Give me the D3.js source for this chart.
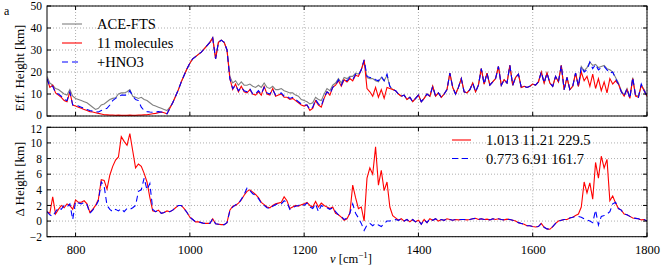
<!DOCTYPE html>
<html><head><meta charset="utf-8">
<script src="https://cdn.jsdelivr.net/npm/d3@7"></script>
<style>body{margin:0;background:#fff}svg{display:block}text{font-family:"Liberation Serif","DejaVu Serif",serif;fill:#000}</style>
</head><body><svg id="c" width="664" height="266"></svg>
<script>
// sampling grid (cm^-1)
const wavenumbers = d3.range(750, 1801, 5);
const xTicks = [800, 1000, 1200, 1400, 1600, 1800];
const topTicks = [0, 10, 20, 30, 40, 50];
const botTicks = [-2, 0, 2, 4, 6, 8, 10, 12];
const topLegend = ["ACE-FTS", "11 molecules", "+HNO3"];
const botLegend = ["1.013 11.21 229.5", "0.773 6.91 161.7"];

const aceTop = [
18,15,14,12.5,12,11,10,9.5,12,9,
8,7.5,7,6.5,6,5,4,3,3.5,5,
5.5,6.5,7.5,8,8.3,10,10.5,10.5,11,12,
9,8.5,8,8.5,7.5,7,6,5,4.5,4,
3.5,3,2.5,4,6,9,12,15.5,18.5,21.5,
24,26,27,28,29,30.5,32,33.5,35.5,26,
33.5,34.5,33.5,30,18,15,16,14,15.5,14,
14,14.5,13.5,13,14,13,15,13,12.5,13.5,
12,12,12.5,11.5,11,10.5,10.5,9.5,9,7.5,
7,6.5,5.5,6,8.5,7.5,7,10,12.5,11.5,
14,15,17,15,17.5,17,18,18,19.5,19,
21,25,17.5,17,17,16,15.5,17.5,16,18.5,
13.5,12,11.5,10,9,9.5,7.5,8.5,6.5,8,
9.5,6.5,8,10,9,13.5,9,10.5,8.5,10,
12,19.5,13,10,13,17,11,10.5,12,15,
11,14,21.5,14.5,19.5,14,15.5,17,22.5,14,
16.5,15,23,14,17.5,19,13,13.5,13,13.5,
14.5,14,15.5,20,15,19.5,15,13.5,18,15.5,
23,12,17.5,12,13.5,19.5,13.5,22.5,20.5,22,
24.5,23,23.5,22,22.5,23,21.5,21,20,17.5,
15,11.5,9.5,12.5,8.5,17.5,9.5,9,14,12,
9.5];

const redTop = [
17,13,14,10.5,9.5,8.5,7,6.5,11,5,
4.5,4,3.5,3,2.5,2,1.8,1.5,1.2,0.9,
0.6,0.5,0.4,0.4,0.3,0.4,0.3,0.3,0.3,0.4,
0.3,0.3,0.4,0.4,0.5,0.6,0.8,1,1.2,1.5,
1.8,1.5,1,3.5,6,9,12,15.5,18.5,21.5,
24,26,27,28,29,30.5,32,33.5,35.5,26,
33.5,34.5,33.5,30,17,12,14.5,11,13.5,11,
10.5,12,10,9.5,11,9.5,13.5,10,9.5,12.5,
9,9.5,10,8.5,8.5,7.5,8,7,6,5,
4.5,5,2.5,3.5,7,5,4,8,11,9.5,
13,14,16,13.5,16.5,15.5,17,16,18.5,18,
21,25.5,12.5,11,9,13,8.5,12,8,13,
12.5,12,11.5,10,9,9.5,7.5,8.5,6.5,8,
9.5,6.5,8,10,9,13.5,9,10.5,8.5,10,
12,19.5,13,10,13,17,11,10.5,12,15,
11,14,21.5,14.5,19.5,14,15.5,17,22.5,14,
16.5,15,23,14,17.5,19,13,13.5,13,13.5,
14.5,14,15.5,20,15,19.5,15,13.5,18,15.5,
23,12,17.5,12,13.5,19.5,13.5,20,16,18,
13.5,19,12.5,17,11.5,15.5,10.5,17,14.5,16,
14.5,11,9,12,8,17,9,8.5,14,11.5,
9];

const blueTop = [
17,13.5,13.5,10.5,10,9,7.5,7,11,5,
5,4.5,4,3.5,3,2.5,2.2,2,1.8,2.5,
3,3.5,5,7,8,8.8,9.5,9.5,9.5,11.5,
9,7.5,7,4,2.5,2,1.8,1.7,1.8,2,
1.8,1.5,1,3.5,6,9,12,15.5,18.5,21.5,
24,26,27,28,29,30.5,32,33.5,35.5,26,
33.5,34.5,33.5,30,17,12.5,14,11.5,13,11.5,
11,12.5,10,10,11.5,10,13,10.5,10,12,
9.5,10,10.5,9,9,8,8.5,7.5,6.5,5.5,
5,5,3,4,7.5,5.5,4.5,8.5,11,10,
13,14,16.5,14,17,16,17.5,16.5,19,18.5,
21,25.5,18,17.5,17.5,16.5,16,18,16,19,
13.5,12,11.5,10,9,9.5,7.5,8.5,6.5,8,
9.5,6.5,8,10,9,13.5,9,10.5,8.5,10,
12,19.5,13,10,13,17,11,10.5,12,15,
11,14,21.5,14.5,19.5,14,15.5,17,22.5,14,
16.5,15,23,14,17.5,19,13,13.5,13,13.5,
14.5,14,15.5,20,15,19.5,15,13.5,18,15.5,
23,12,17.5,12,13.5,19.5,13.5,22.5,20,21,
24.5,21.5,23.5,21,22,22.5,21,19.5,20,17,
14.5,11,9,12.5,8,17.5,9,8.5,14.5,11.5,
9];

const redDelta = [
1.2,1.0,3.1,0.9,1.5,2.0,1.7,2.2,2.0,1.5,
2.7,2.4,2.4,2.6,2.2,1.1,1.5,2.0,2.8,5.3,
5.2,4.1,5.9,7.0,7.8,8.2,10.8,10.2,9.7,11.2,
9.0,6.8,7.3,7.0,6.1,5.0,3.0,1.3,1.2,1.4,
1.0,1.1,1.3,1.2,1.4,1.7,2.0,2.0,1.6,1.1,
0.5,0.2,-0.1,-0.1,-0.2,-0.3,-0.3,-0.3,0.3,-0.35,
-0.4,-0.45,-0.45,-0.2,1.4,1.9,2.0,2.3,2.7,3.3,
3.8,4.0,3.7,3.4,3.0,2.4,2.1,1.8,1.7,2.0,
2.2,2.3,2.4,3.1,2.6,1.6,1.8,2.0,1.9,2.1,
2.2,2.4,2.0,1.8,2.5,1.8,2.3,2.0,1.8,1.6,
1.8,1.0,0.8,0.5,0.1,0.3,1.0,4.6,3.0,1.6,
1.8,0.0,5.5,6.8,6.0,9.5,4.6,6.5,3.9,5.0,
1.8,0.7,0.4,0.1,0.3,0.0,0.2,-0.1,0.2,-0.1,
0.1,-0.4,0.2,-0.2,0.3,0.1,0.3,0.0,0.2,0.1,
0.3,0.2,0.1,0.2,0.15,0.2,0.2,0.15,0.2,0.3,
0.35,0.2,0.3,0.2,0.25,0.15,0.3,0.2,0.3,0.2,
0.15,0.25,0.2,0.1,0.0,-0.2,-0.3,-0.4,-0.6,-0.6,
-0.7,-0.75,-0.7,-0.3,-0.8,-1.0,-1.05,-0.7,-0.3,0.0,
0.1,0.2,0.2,0.4,0.5,0.7,0.9,1.8,5.0,3.6,
4.9,2.8,7.5,5.5,8.3,6.8,7.9,2.6,3.2,2.3,
1.6,1.4,0.9,0.8,0.6,0.4,0.35,0.3,0.15,0.2,
0.0];

const blueDelta = [
1.2,0.8,0.6,1.2,1.7,1.5,2.0,1.8,2.2,0.2,
2.5,2.3,2.2,2.4,2.1,1.0,1.4,1.9,2.6,5.0,
4.5,2.0,1.5,1.2,1.5,1.3,1.6,1.2,1.6,1.5,
1.7,2.0,3.8,4.0,5.5,4.0,4.8,1.5,1.2,1.4,
1.0,1.1,1.3,1.2,1.4,1.7,2.0,2.0,1.6,1.1,
0.5,0.2,-0.1,-0.1,-0.2,-0.3,-0.3,-0.3,0.3,-0.35,
-0.4,-0.45,-0.45,-0.2,1.3,1.8,2.1,2.2,2.8,3.4,
4.2,3.9,3.5,3.3,2.9,2.3,2.0,1.7,1.6,1.9,
2.1,2.3,2.2,2.6,2.4,1.5,1.7,1.9,2.0,2.2,
2.0,2.3,1.8,1.6,2.2,1.2,2.0,1.8,1.7,1.5,
1.7,1.2,0.8,0.6,0.2,0.4,1.0,2.2,1.0,0.4,
-0.3,-1.2,-0.5,-0.3,-0.6,-0.3,-0.5,-0.7,-0.3,0.0,
0.0,0.1,0.2,0.1,0.3,0.0,0.2,-0.1,0.2,-0.1,
0.1,-0.4,0.2,-0.2,0.3,0.1,0.3,0.0,0.2,0.1,
0.3,0.2,0.1,0.2,0.15,0.2,0.2,0.15,0.2,0.3,
0.35,0.2,0.3,0.2,0.25,0.15,0.3,0.2,0.3,0.2,
0.15,0.25,0.2,0.1,0.0,-0.2,-0.3,-0.4,-0.6,-0.6,
-0.7,-0.75,-0.7,-0.3,-0.8,-1.0,-1.05,-0.7,-0.3,0.0,
0.1,0.2,0.2,0.4,0.5,0.6,0.6,0.5,0.3,0.15,
0.0,-0.2,1.4,-0.5,0.6,0.7,0.9,1.2,2.2,2.4,
1.6,1.4,0.9,0.8,0.6,0.4,0.35,0.3,0.15,0.2,
0.0];

const svg = d3.select("#c");
const L = 47, R = 647;
const x = d3.scaleLinear().domain([750, 1800]).range([L, R]);
const yTop = d3.scaleLinear().domain([0, 50]).range([116, 6]);
const yBot = d3.scaleLinear().domain([-2, 12]).range([236.7, 127.3]);
const FONT = '"Liberation Serif",serif';

function panel(y, ticks, id, showX, nudge) {
  const [y0, y1] = y.range();
  const g = svg.append("g");
  svg.append("clipPath").attr("id", id).append("rect")
    .attr("x", L).attr("y", y1).attr("width", R - L).attr("height", y0 - y1);
  g.selectAll(".gx").data(xTicks).join("line")
    .attr("x1", d => x(d)).attr("x2", d => x(d)).attr("y1", y1).attr("y2", y0)
    .attr("stroke", "#9a9a9a").attr("stroke-width", 0.8).attr("stroke-dasharray", "1,2");
  g.selectAll(".gy").data(ticks).join("line")
    .attr("y1", d => y(d)).attr("y2", d => y(d)).attr("x1", L).attr("x2", R)
    .attr("stroke", "#9a9a9a").attr("stroke-width", 0.8).attr("stroke-dasharray", "1,2");
  const ay = svg.append("g").attr("transform", `translate(${L},0)`)
    .call(d3.axisLeft(y).tickValues(ticks).tickSize(0).tickPadding(5)
      .tickFormat(d => d < 0 ? "\u2212" + Math.abs(d) : String(d)));
  ay.select(".domain").remove();
  ay.selectAll("text").attr("font-size", 11.5).style("font-family", FONT)
    .attr("y", d => nudge(d));
  if (showX) {
    const ax = svg.append("g").attr("transform", `translate(0,${y0})`)
      .call(d3.axisBottom(x).tickValues(xTicks).tickSize(0).tickPadding(8).tickFormat(d3.format("d")));
    ax.select(".domain").remove();
    ax.selectAll("text").attr("font-size", 12.5).style("font-family", FONT);
  }
  return {g, y0, y1};
}

function frame(p, y, ticks) {
  const {y0, y1} = p;
  const f = svg.append("g");
  xTicks.forEach(t => {
    f.append("line").attr("x1", x(t)).attr("x2", x(t)).attr("y1", y0).attr("y2", y0 - 4).attr("stroke", "#000");
    f.append("line").attr("x1", x(t)).attr("x2", x(t)).attr("y1", y1).attr("y2", y1 + 4).attr("stroke", "#000");
  });
  ticks.forEach(t => {
    f.append("line").attr("x1", L).attr("x2", L + 4).attr("y1", y(t)).attr("y2", y(t)).attr("stroke", "#000");
    f.append("line").attr("x1", R).attr("x2", R - 4).attr("y1", y(t)).attr("y2", y(t)).attr("stroke", "#000");
  });
  f.append("rect").attr("x", L).attr("y", y1).attr("width", R - L).attr("height", y0 - y1)
    .attr("fill", "none").attr("stroke", "#000").attr("stroke-width", 1);
}

function series(p, y, vals, color, dash, clip) {
  const line = d3.line().x((d, i) => x(wavenumbers[i])).y(d => y(d));
  p.g.append("path").datum(vals).attr("d", line).attr("fill", "none")
    .attr("stroke", color).attr("stroke-width", 1.1)
    .attr("stroke-dasharray", dash || null).attr("clip-path", `url(#${clip})`);
}

const pt = panel(yTop, topTicks, "clipTop", false, d => d === 0 ? -1.5 : 0);
series(pt, yTop, aceTop, "#808080", null, "clipTop");
series(pt, yTop, redTop, "#ff0000", null, "clipTop");
series(pt, yTop, blueTop, "#0000ff", "6,4", "clipTop");
frame(pt, yTop, topTicks);

const pb = panel(yBot, botTicks, "clipBot", true, d => d === 12 ? 1.5 : 0);
series(pb, yBot, redDelta, "#ff0000", null, "clipBot");
series(pb, yBot, blueDelta, "#0000ff", "6,4", "clipBot");
frame(pb, yBot, botTicks);

const topCols = ["#808080", "#ff0000", "#0000ff"];
const topDash = [null, null, "6,4"];
topLegend.forEach((t, i) => {
  const yy = 24 + i * 19;
  svg.append("line").attr("x1", 62).attr("x2", 82).attr("y1", yy).attr("y2", yy)
    .attr("stroke", topCols[i]).attr("stroke-width", 1.1).attr("stroke-dasharray", topDash[i]);
  svg.append("text").attr("x", 97).attr("y", yy).attr("dy", "0.35em").attr("font-size", 14.5).text(t);
});
const botCols = ["#ff0000", "#0000ff"];
const botDash = [null, "6,4"];
botLegend.forEach((t, i) => {
  const yy = 140 + i * 18.5;
  svg.append("line").attr("x1", 452).attr("x2", 471).attr("y1", yy).attr("y2", yy)
    .attr("stroke", botCols[i]).attr("stroke-width", 1.1).attr("stroke-dasharray", botDash[i]);
  svg.append("text").attr("x", 486).attr("y", yy).attr("dy", "0.35em").attr("font-size", 14.5).text(t);
});

svg.append("text").attr("x", 4).attr("y", 15).attr("font-size", 12).text("a");
svg.append("text").attr("transform", "translate(24,68) rotate(-90)").attr("text-anchor", "middle")
  .attr("font-size", 13).text("Eff. Height [km]");
svg.append("text").attr("transform", "translate(24,179) rotate(-90)").attr("text-anchor", "middle")
  .attr("font-size", 13).text("\u0394 Height [km]");
const xl = svg.append("text").attr("x", 351).attr("y", 263).attr("text-anchor", "middle").attr("font-size", 12.5);
xl.append("tspan").attr("font-style", "italic").text("\u03bd");
xl.append("tspan").text(" [cm");
xl.append("tspan").attr("font-size", 9).attr("dy", -5).text("\u22121");
xl.append("tspan").attr("dy", 5).text("]");
</script></body></html>
